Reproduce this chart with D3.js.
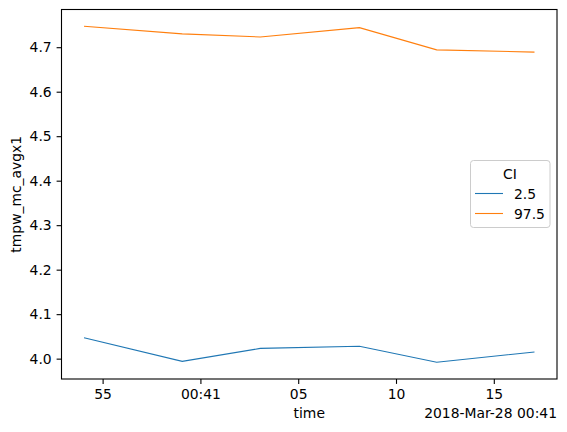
<!DOCTYPE html>
<html>
<head>
<meta charset="utf-8">
<script src="https://cdn.jsdelivr.net/npm/d3@7"></script>
<style>
  body { margin: 0; background: #fff; }
  text { font-family: "DejaVu Sans", sans-serif; fill: #000; }
</style>
</head>
<body>
<div id="chart"></div>
<script>
// sample times (UTC) and CI bounds
var times = [
  "2018-03-28T00:40:54.05Z",
  "2018-03-28T00:40:59.07Z",
  "2018-03-28T00:41:03.06Z",
  "2018-03-28T00:41:08.13Z",
  "2018-03-28T00:41:12.08Z",
  "2018-03-28T00:41:17.08Z"
];
var ciLow = [4.047, 3.994, 4.023, 4.028, 3.992, 4.015];
var ciHigh = [4.747, 4.730, 4.723, 4.744, 4.694, 4.689];
var seriesNames = ["2.5", "97.5"];
var colors = ["#1f77b4", "#ff7f0e"];

(function () {
  var W = 567, H = 432;
  var mLeft = 61.5, mTop = 9.5, mRight = 557, mBottom = 379;
  var fs = 13.9;

  var svg = d3.select("#chart").append("svg")
    .attr("width", W).attr("height", H);

  var dates = times.map(function (t) { return new Date(t); });

  // matplotlib style 5% margins
  var tExt = d3.extent(dates, function (d) { return +d; });
  var tPad = (tExt[1] - tExt[0]) * 0.05;
  var x = d3.scaleUtc()
    .domain([new Date(tExt[0] - tPad), new Date(tExt[1] + tPad)])
    .range([mLeft, mRight]);

  var allY = ciLow.concat(ciHigh);
  var yExt = d3.extent(allY);
  var yPad = (yExt[1] - yExt[0]) * 0.05;
  var y = d3.scaleLinear()
    .domain([yExt[0] - yPad, yExt[1] + yPad])
    .range([mBottom, mTop]);

  // x axis
  var xTicks = x.ticks(d3.utcSecond.every(5));
  var xAxis = d3.axisBottom(x)
    .tickValues(xTicks)
    .tickSizeOuter(0)
    .tickSize(4.9)
    .tickPadding(4.9)
    .tickFormat(function (d) {
      return d.getUTCSeconds() === 0 ? d3.utcFormat("%H:%M")(d) : d3.utcFormat("%S")(d);
    });
  var gx = svg.append("g")
    .attr("transform", "translate(0," + mBottom + ")")
    .call(xAxis);

  var yAxis = d3.axisLeft(y)
    .ticks(8)
    .tickSizeOuter(0)
    .tickSize(4.9)
    .tickPadding(4.9)
    .tickFormat(d3.format(".1f"));
  var gy = svg.append("g")
    .attr("transform", "translate(" + mLeft + ",0)")
    .call(yAxis);

  [gx, gy].forEach(function (g) {
    g.select(".domain").remove();
    g.selectAll("line").attr("stroke", "#000").attr("stroke-width", 1.1);
    g.selectAll("text")
      .style("font-family", "DejaVu Sans")
      .style("font-size", fs + "px")
      .attr("fill", "#000");
  });

  // lines
  var line = d3.line()
    .x(function (d) { return x(d[0]); })
    .y(function (d) { return y(d[1]); });

  [ciLow, ciHigh].forEach(function (vals, i) {
    svg.append("path")
      .datum(dates.map(function (d, j) { return [d, vals[j]]; }))
      .attr("fill", "none")
      .attr("stroke", colors[i])
      .attr("stroke-width", 1.1)
      .attr("d", line);
  });

  // frame
  svg.append("rect")
    .attr("x", mLeft).attr("y", mTop)
    .attr("width", mRight - mLeft).attr("height", mBottom - mTop)
    .attr("fill", "none").attr("stroke", "#000").attr("stroke-width", 1.1);

  // labels
  svg.append("text")
    .attr("x", (mLeft + mRight) / 2).attr("y", 418)
    .attr("text-anchor", "middle")
    .style("font-size", fs + "px")
    .text("time");

  svg.append("text")
    .attr("transform", "translate(21," + (mTop + mBottom) / 2 + ") rotate(-90)")
    .attr("text-anchor", "middle")
    .style("font-size", fs + "px")
    .text("tmpw_mc_avgx1");

  svg.append("text")
    .attr("x", mRight).attr("y", 418)
    .attr("text-anchor", "end")
    .style("font-size", fs + "px")
    .text("2018-Mar-28 00:41");

  // legend
  var lg = svg.append("g");
  lg.append("rect")
    .attr("x", 470.5).attr("y", 160.5)
    .attr("width", 79.5).attr("height", 67)
    .attr("rx", 3)
    .attr("fill", "#fff").attr("fill-opacity", 0.8)
    .attr("stroke", "#cccccc").attr("stroke-width", 1);
  lg.append("text")
    .attr("x", 510).attr("y", 179)
    .attr("text-anchor", "middle")
    .style("font-size", fs + "px")
    .text("CI");
  seriesNames.forEach(function (name, i) {
    var yy = 193.5 + i * 20;
    lg.append("line")
      .attr("x1", 475).attr("x2", 503)
      .attr("y1", yy).attr("y2", yy)
      .attr("stroke", colors[i]).attr("stroke-width", 1.1);
    lg.append("text")
      .attr("x", 514).attr("y", yy + 5)
      .style("font-size", fs + "px")
      .text(name);
  });
})();
</script>
</body>
</html>
